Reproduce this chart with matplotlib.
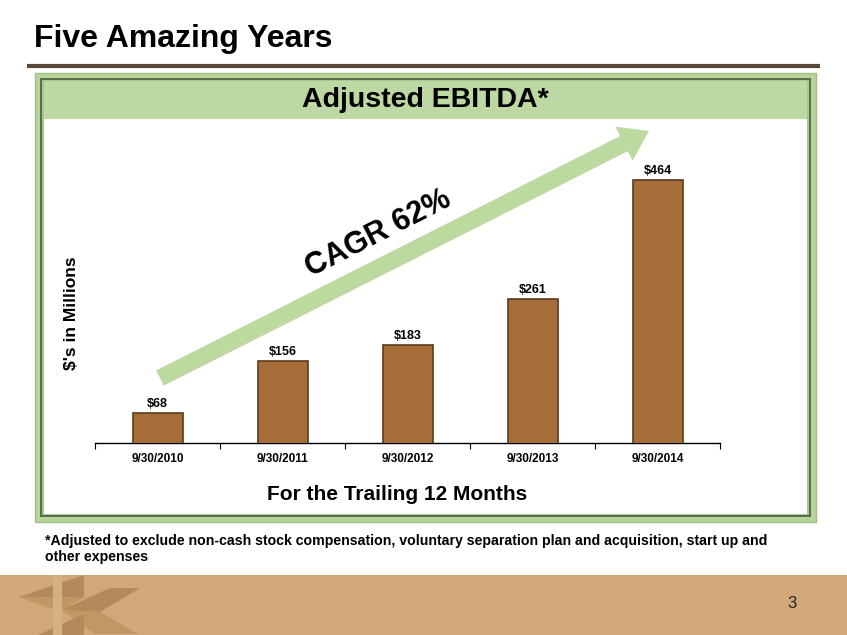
import matplotlib
matplotlib.use("Agg")
import matplotlib.pyplot as plt
from matplotlib.patches import Rectangle, Polygon, FancyArrow

plt.rcParams['font.family'] = ['Liberation Sans', 'DejaVu Sans']

# ---- data ----
categories = ["9/30/2010", "9/30/2011", "9/30/2012", "9/30/2013", "9/30/2014"]
values = [68, 156, 183, 261, 464]
value_labels = ["$68", "$156", "$183", "$261", "$464"]
title = "Five Amazing Years"
chart_title = "Adjusted EBITDA*"
ylabel = "$'s in Millions"
xlabel = "For the Trailing 12 Months"
cagr_text = "CAGR 62%"
footnote = ("*Adjusted to exclude non-cash stock compensation, voluntary separation plan and acquisition, start up and\n"
            "other expenses")
page_no = "3"

W, H = 847, 635
fig = plt.figure(figsize=(W / 100, H / 100), dpi=100)
fig.patch.set_facecolor("white")

# background decoration axes in pixel coordinates
bg = fig.add_axes([0, 0, 1, 1], zorder=0)
bg.set_xlim(0, W)
bg.set_ylim(H, 0)
bg.axis("off")

# title and rule
bg.text(34, 39, title, fontsize=23, fontweight="bold", ha="left", va="center", color="black")
bg.plot([27, 820], [66, 66], color="#5a4738", lw=3, solid_capstyle="butt")

# frame
bg.add_patch(Rectangle((35, 73), 781, 449, facecolor="#b7d49b", edgecolor="#9fbf84", lw=1))
bg.add_patch(Rectangle((40, 78), 771, 439, facecolor="#5d6e4e", edgecolor="none"))
bg.add_patch(Rectangle((42, 80), 767, 435, facecolor="#a9c690", edgecolor="none"))
bg.add_patch(Rectangle((44, 81), 763, 433, facecolor="white", edgecolor="none"))
bg.add_patch(Rectangle((44, 81), 763, 38, facecolor="#bdd8a2", edgecolor="none"))
bg.text(425, 100, chart_title, fontsize=20.5, fontweight="bold", ha="center", va="center", color="black")

# axis titles
bg.text(71, 313, ylabel, fontsize=12.5, fontweight="bold", rotation=90, ha="center", va="center")
bg.text(397, 495, xlabel, fontsize=15, fontweight="bold", ha="center", va="center")

# footnote
bg.text(45, 549, footnote, fontsize=10.2, fontweight="bold", ha="left", va="center", linespacing=1.2)

# footer band
bg.add_patch(Rectangle((0, 575), W, 60, facecolor="#d1a979", edgecolor="none"))
logo_dark = "#b38b5b"
logo_mid = "#c09866"
bg.add_patch(Polygon([(19, 597), (84, 575), (84, 597)], closed=True, facecolor=logo_dark, edgecolor="none"))
bg.add_patch(Polygon([(19, 597), (84, 597), (60, 612)], closed=True, facecolor=logo_mid, edgecolor="none"))
bg.add_patch(Polygon([(62, 610), (110, 588), (140, 588), (100, 612)], closed=True, facecolor=logo_dark, edgecolor="none"))
bg.add_patch(Polygon([(62, 610), (100, 612), (138, 634), (95, 634)], closed=True, facecolor=logo_mid, edgecolor="none"))
bg.add_patch(Polygon([(38, 635), (84, 614), (84, 635)], closed=True, facecolor=logo_dark, edgecolor="none"))
bg.add_patch(Rectangle((53, 575), 9, 60, facecolor="#d6b083", edgecolor="none"))
bg.text(792, 604, page_no, fontsize=12, ha="center", va="center", color="#222222")

# ---- chart axes ----
ax = fig.add_axes([95 / W, (H - 443) / H, 625 / W, 303 / H], zorder=2)
ax.patch.set_alpha(0)
x = list(range(len(categories)))
ax.bar(x, values, width=0.4, color="#a56d39", edgecolor="#5e3a1a", linewidth=1.2, zorder=3)
for xi, v, lab in zip(x, values, value_labels):
    ax.annotate(lab, (xi, v), xytext=(0, 3), textcoords="offset pixels",
                ha="center", va="bottom", fontsize=9, fontweight="bold")
ax.set_xlim(-0.5, len(categories) - 0.5)
ax.set_ylim(17, 532)
for s in ["top", "right", "left"]:
    ax.spines[s].set_visible(False)
ax.spines["bottom"].set_color("black")
ax.spines["bottom"].set_linewidth(1)
ax.set_yticks([])
ax.set_xticks([i - 0.5 for i in range(len(categories) + 1)])
ax.set_xticklabels([])
ax.tick_params(axis="x", which="major", length=4, direction="out", color="black")
ax.set_xticks(x, minor=True)
ax.set_xticklabels(categories, minor=True, fontsize=8.5, fontweight="bold")
ax.tick_params(axis="x", which="minor", length=0, pad=7)

# ---- arrow overlay ----
ov = fig.add_axes([0, 0, 1, 1], zorder=3)
ov.set_xlim(0, W)
ov.set_ylim(H, 0)
ov.axis("off")
ov.patch.set_alpha(0)
ov.add_patch(FancyArrow(160, 378, 489, -247, width=17, head_width=38, head_length=28,
                        length_includes_head=True, facecolor="#bcd9a0", edgecolor="none"))
ov.text(378, 234, cagr_text, fontsize=22, fontweight="bold", rotation=27,
        ha="center", va="center", rotation_mode="anchor")

fig.savefig("out.png", dpi=100)
